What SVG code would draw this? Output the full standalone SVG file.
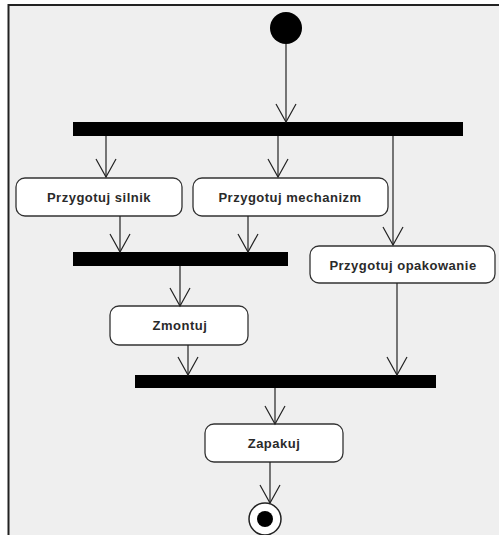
<svg xmlns="http://www.w3.org/2000/svg" width="499" height="535" viewBox="0 0 499 535">
<style>
.node rect.act{fill:#ffffff;stroke:#333333;stroke-width:1.3}
.bar{fill:#000000}
.lbl{font-family:"Liberation Sans",Arial,sans-serif;font-size:13px;font-weight:bold;fill:#2a2a2a;text-anchor:middle;letter-spacing:0.5px}
.conn line{stroke:#222222;stroke-width:1.2;marker-end:url(#v)}
</style>
<defs>
<marker id="v" markerUnits="userSpaceOnUse" markerWidth="22" markerHeight="22" refX="19" refY="11" orient="auto" viewBox="0 0 22 22">
<path d="M1,1 L19,11 L1,21" fill="none" stroke="#222222" stroke-width="1.2"/>
</marker>
</defs>
<rect x="0" y="0" width="499" height="535" fill="#ffffff"/>
<rect x="8.5" y="5" width="500" height="540" fill="#efefef" stroke="#222222" stroke-width="2"/>
<g id="start" class="node"><circle cx="286" cy="28" r="16" fill="#000000"/></g>
<g id="fork1" class="node"><rect class="bar" x="73" y="122" width="390" height="14"/></g>
<g id="silnik" class="node"><rect class="act" x="16" y="178" width="166" height="38" rx="9"/><text class="lbl" x="99" y="202">Przygotuj silnik</text></g>
<g id="mechanizm" class="node"><rect class="act" x="193" y="178" width="195" height="38" rx="9"/><text class="lbl" x="290" y="202">Przygotuj mechanizm</text></g>
<g id="join1" class="node"><rect class="bar" x="73" y="252" width="215" height="14"/></g>
<g id="opakowanie" class="node"><rect class="act" x="310" y="246" width="185" height="37" rx="9"/><text class="lbl" x="403" y="270">Przygotuj opakowanie</text></g>
<g id="zmontuj" class="node"><rect class="act" x="110" y="306" width="138" height="39" rx="9"/><text class="lbl" x="180" y="330">Zmontuj</text></g>
<g id="join2" class="node"><rect class="bar" x="135" y="375" width="301" height="13"/></g>
<g id="zapakuj" class="node"><rect class="act" x="205" y="424" width="138" height="38" rx="9"/><text class="lbl" x="274" y="448">Zapakuj</text></g>
<g id="end" class="node"><circle cx="265" cy="519" r="16" fill="#ffffff" stroke="#222222" stroke-width="1.5"/><circle cx="265" cy="519" r="8" fill="#000000"/></g>
<g id="connectors" class="conn">
<line x1="286" y1="44" x2="286" y2="122"/>
<line x1="106" y1="136" x2="106" y2="177"/>
<line x1="278" y1="136" x2="278" y2="177"/>
<line x1="393" y1="136" x2="393" y2="245"/>
<line x1="120" y1="216" x2="120" y2="252"/>
<line x1="248" y1="216" x2="248" y2="252"/>
<line x1="180" y1="266" x2="180" y2="306"/>
<line x1="188" y1="345" x2="188" y2="375"/>
<line x1="397" y1="283" x2="397" y2="375"/>
<line x1="275" y1="388" x2="275" y2="424"/>
<line x1="270" y1="462" x2="270" y2="503"/>
</g>
</svg>
